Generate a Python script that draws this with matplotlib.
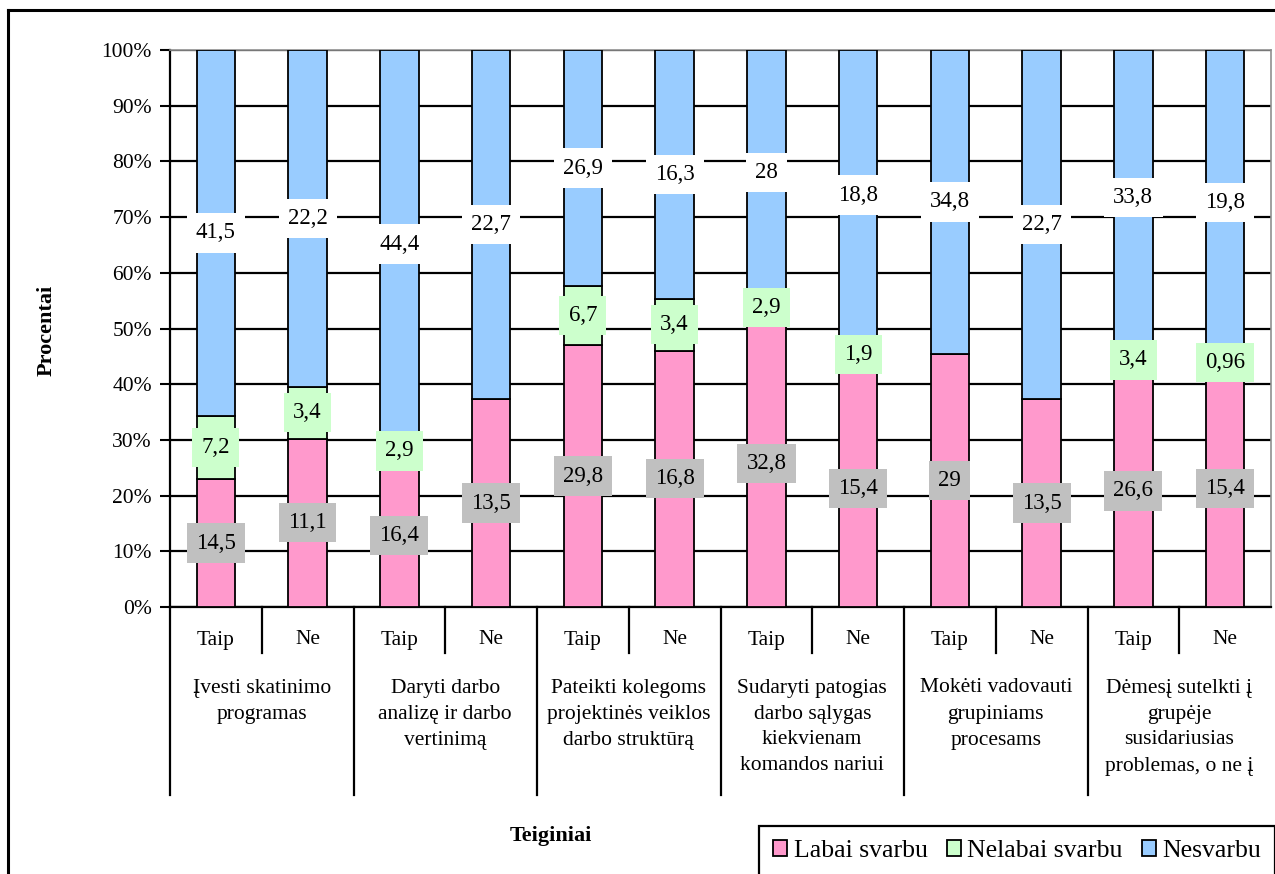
import matplotlib.pyplot as plt
from matplotlib.patches import Patch
from matplotlib.transforms import blended_transform_factory
import numpy as np

plt.rcParams['font.family'] = ['Liberation Serif', 'DejaVu Serif']

# teiginiai (po du stulpelius: Taip / Ne)
teiginiai = [
    ['Įvesti skatinimo', 'programas'],
    ['Daryti darbo', 'analizę ir darbo', 'vertinimą'],
    ['Pateikti kolegoms', 'projektinės veiklos', 'darbo struktūrą'],
    ['Sudaryti patogias', 'darbo sąlygas', 'kiekvienam', 'komandos nariui'],
    ['Mokėti vadovauti', 'grupiniams', 'procesams'],
    ['Dėmesį sutelkti į', 'grupėje', 'susidariusias', 'problemas, o ne į'],
]
atsakymai = ['Taip', 'Ne']

labai_svarbu = [14.5, 11.1, 16.4, 13.5, 29.8, 16.8, 32.8, 15.4, 29, 13.5, 26.6, 15.4]
nelabai_svarbu = [7.2, 3.4, 2.9, 0, 6.7, 3.4, 2.9, 1.9, 0, 0, 3.4, 0.96]
nesvarbu = [41.5, 22.2, 44.4, 22.7, 26.9, 16.3, 28, 18.8, 34.8, 22.7, 33.8, 19.8]

serijos = ['Labai svarbu', 'Nelabai svarbu', 'Nesvarbu']
spalvos = ['#FF99CC', '#CCFFCC', '#99CCFF']
etikeciu_fonas = ['#C0C0C0', '#CCFFCC', 'white']

W, H = 1275, 874
fig = plt.figure(figsize=(W / 100, H / 100), dpi=100)
ax = fig.add_axes([170 / W, 1 - 607 / H, (1271 - 170) / W, (607 - 50) / H])

reiksmes = np.array([labai_svarbu, nelabai_svarbu, nesvarbu], dtype=float)
procentai = reiksmes / reiksmes.sum(axis=0) * 100
x = np.arange(reiksmes.shape[1])

apacia = np.zeros(len(x))
for s in range(3):
    ax.bar(x, procentai[s], bottom=apacia, width=0.42, color=spalvos[s],
           edgecolor='black', linewidth=1.3, zorder=3)
    for i in x:
        v = reiksmes[s, i]
        if v == 0:
            continue
        ax.text(i, apacia[i] + procentai[s, i] / 2, f'{v:g}'.replace('.', ','),
                ha='center', va='center', fontsize=16.5, zorder=5,
                bbox=dict(boxstyle='square,pad=0.4', facecolor=etikeciu_fonas[s],
                          edgecolor='none'))
    apacia += procentai[s]

ax.set_xlim(-0.5, len(x) - 0.5)
ax.set_ylim(0, 100)
ax.set_yticks(range(0, 101, 10))
ax.set_yticklabels([f'{t}%' for t in range(0, 101, 10)], fontsize=15.5)
ax.set_xticks([])
ax.tick_params(axis='y', length=7, width=1.5, direction='out', pad=6)
ax.yaxis.grid(True, color='black', linewidth=1.6)
ax.set_axisbelow(True)
for k in ['left', 'bottom']:
    ax.spines[k].set_color('black')
    ax.spines[k].set_linewidth(1.6)
for k in ['top', 'right']:
    ax.spines[k].set_color('#909090')
    ax.spines[k].set_linewidth(1.2)

# dviejų lygių kategorijų ašis
tr = blended_transform_factory(ax.transData, fig.transFigure)
def fy(py):
    return 1 - py / H

for i in x:
    ax.text(i, fy(640), atsakymai[i % 2], transform=tr, ha='center', va='center',
            fontsize=15.5)
for g in range(len(teiginiai)):
    ax.plot([2 * g + 0.5] * 2, [fy(607), fy(653)], transform=tr, color='black',
            linewidth=1.6, clip_on=False)
    ax.plot([2 * g - 0.5] * 2, [fy(607), fy(795)], transform=tr, color='black',
            linewidth=1.6, clip_on=False)
    for j, eil in enumerate(teiginiai[g]):
        ax.text(2 * g + 0.5, fy(688 + 26 * j), eil, transform=tr, ha='center',
                va='center', fontsize=15.5)

fig.text(47 / W, fy(330), 'Procentai', rotation=90, ha='center', va='center',
         fontsize=16, fontweight='bold')
fig.text(551 / W, fy(836), 'Teiginiai', ha='center', va='center',
         fontsize=16, fontweight='bold')

# rėmelis aplink visą diagramą
fig.add_artist(plt.Line2D([8 / W, 8 / W], [0, fy(10)], color='black', linewidth=2.2))
fig.add_artist(plt.Line2D([8 / W, 1], [fy(10), fy(10)], color='black', linewidth=2.2))

rankenos = [Patch(facecolor=c, edgecolor='black', linewidth=1.3) for c in spalvos]
leg = fig.legend(rankenos, serijos, loc='upper left',
                 bbox_to_anchor=(759 / W, fy(826)), ncol=3, fontsize=18.5,
                 handlelength=0.55, handleheight=0.55, handletextpad=0.25,
                 columnspacing=0.75, borderpad=0.55, borderaxespad=0,
                 fancybox=False, framealpha=1)
leg.get_frame().set_edgecolor('black')
leg.get_frame().set_linewidth(1.6)

fig.savefig('out.png', dpi=100)
